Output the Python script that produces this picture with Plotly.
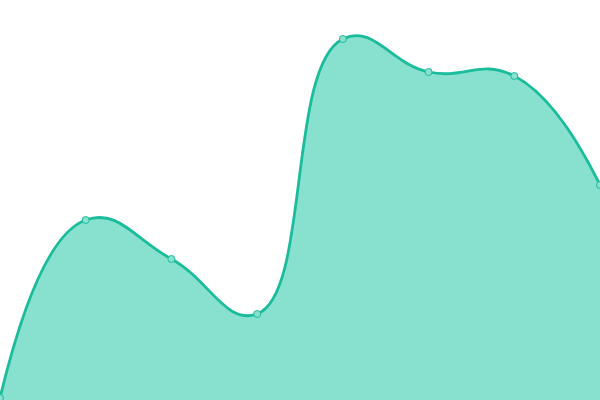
import plotly.graph_objects as go

# x categories and values
points = [0, 1, 2, 3, 4, 5, 6, 7]
values = [2, 180, 141, 86, 361, 328, 324, 215]

fig = go.Figure()
fig.add_trace(go.Scatter(
    x=points,
    y=values,
    mode="lines+markers",
    fill="tozeroy",
    fillcolor="#88e0cf",
    line=dict(color="#1abc9c", width=2.8, shape="spline", smoothing=1.3),
    marker=dict(size=7, color="#88e0cf", line=dict(color="#1abc9c", width=1)),
    hoverinfo="skip",
))

fig.update_layout(
    width=600,
    height=400,
    margin=dict(l=0, r=0, t=0, b=0),
    paper_bgcolor="white",
    plot_bgcolor="white",
    showlegend=False,
    xaxis=dict(range=[0, 7], visible=False),
    yaxis=dict(range=[0, 400], visible=False),
)

# page has a default 8px body margin, drop it so the chart fills the window
fig.write_html(
    "out.html",
    config={"displayModeBar": False, "staticPlot": True},
    post_script="document.body.style.margin='0';document.body.style.overflow='hidden';",
)
